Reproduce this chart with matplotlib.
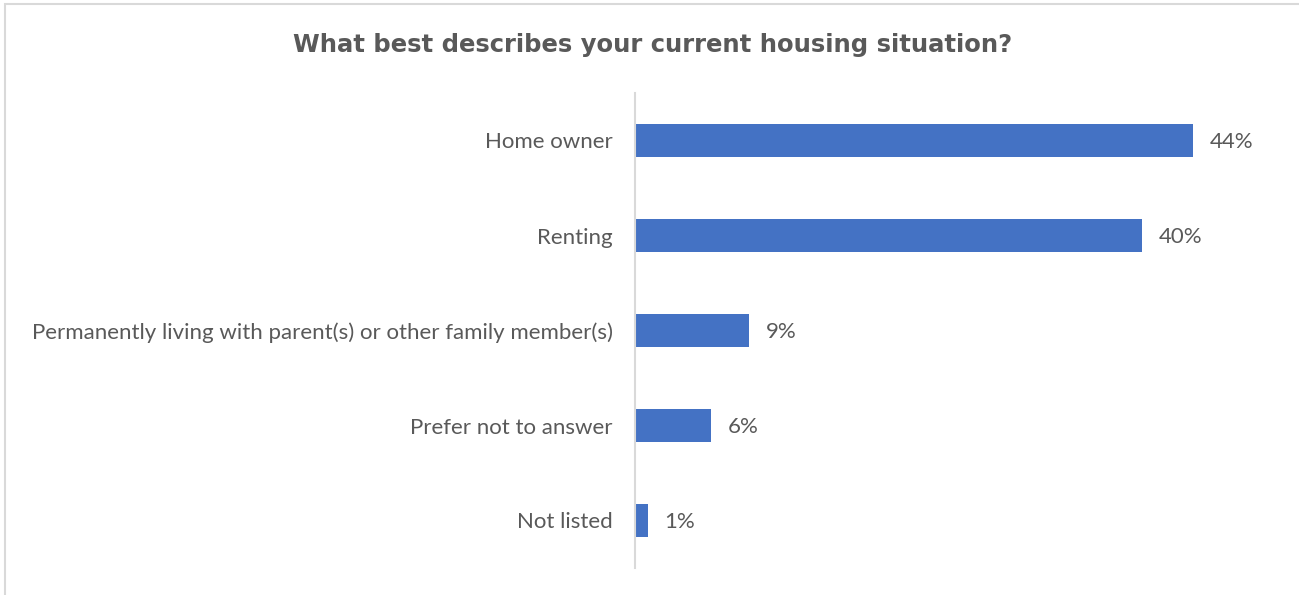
import matplotlib
matplotlib.use("Agg")
import matplotlib.pyplot as plt
from matplotlib.patches import Rectangle

categories = ["Home owner", "Renting",
              "Permanently living with parent(s) or other family member(s)",
              "Prefer not to answer", "Not listed"]
values = [44, 40, 9, 6, 1]
value_labels = ["44%", "40%", "9%", "6%", "1%"]

BLUE = "#4472C4"
TXT = "#595959"
plt.rcParams["font.family"] = ["Lato", "DejaVu Sans"]

fig = plt.figure(figsize=(12.99, 5.95), dpi=100)
# light frame around the chart area
fig.add_artist(Rectangle((5 / 1299, -0.01), 1.02, 1 - 4 / 595 + 0.01, transform=fig.transFigure,
                         fill=False, edgecolor="#D9D9D9", lw=1.5))

ax = fig.add_axes([635 / 1299, 1 - 568 / 595, (1250 - 635) / 1299, 475 / 595])
y = list(range(len(categories)))
ax.barh(y, values, height=0.35, color=BLUE)
ax.set_ylim(len(categories) - 0.5, -0.5)
ax.set_xlim(0, 44 * 615 / 558)
ax.set_yticks(y)
ax.set_yticklabels(categories, fontsize=16, color=TXT)
ax.tick_params(axis="y", length=0, pad=16)
ax.set_xticks([])
for s in ["top", "right", "bottom"]:
    ax.spines[s].set_visible(False)
ax.spines["left"].set_color("#D9D9D9")
ax.spines["left"].set_linewidth(1.5)

for yi, v, lab in zip(y, values, value_labels):
    ax.annotate(lab, (v, yi), xytext=(12, -1), textcoords="offset points",
                va="center", ha="left", fontsize=16, color=TXT)

fig.text(653 / 1299, 1 - 45 / 595, "What best describes your current housing situation?",
         ha="center", va="center", fontsize=17.5, fontweight="bold", color=TXT,
         family="DejaVu Sans")

fig.savefig("out.png", dpi=100)
